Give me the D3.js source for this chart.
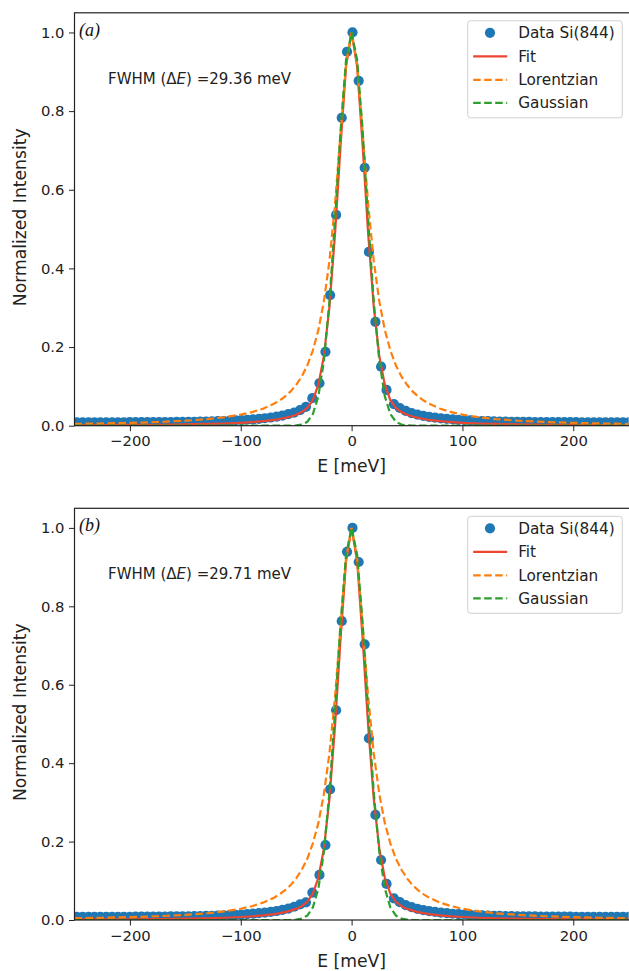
<!DOCTYPE html>
<html>
<head>
<meta charset="utf-8">
<script src="https://cdn.jsdelivr.net/npm/d3@7"></script>
<style>
  body { margin: 0; background: #fff; }
  svg { display: block; }
</style>
</head>
<body>
<svg id="chart"></svg>
<script>
// energy grid of the measured points (meV)
const energyData = [
  -253.2, -247.9, -242.6, -237.3, -232.0, -226.7, -221.4, -216.1, -210.8, -205.5,
  -200.2, -194.9, -189.6, -184.3, -179.0, -173.7, -168.4, -163.1, -157.8, -152.5,
  -147.2, -141.9, -136.6, -131.3, -126.0, -120.7, -115.4, -110.1, -104.8, -99.5,
  -94.2, -88.9, -83.6, -78.3, -73.0, -67.7, -62.4, -57.1, -51.8, -46.5,
  -41.2, -35.4, -29.0, -23.6, -19.4, -14.0, -8.9, -4.1, 0.8, 6.4,
  11.8, 15.6, 21.5, 26.6, 31.5, 38.2,
  43.5, 48.8, 54.1, 59.4, 64.7, 70.0, 75.3, 80.6, 85.9, 91.2,
  96.5, 101.8, 107.1, 112.4, 117.7, 123.0, 128.3, 133.6, 138.9, 144.2,
  149.5, 154.8, 160.1, 165.4, 170.7, 176.0, 181.3, 186.6, 191.9, 197.2,
  202.5, 207.8, 213.1, 218.4, 223.7, 229.0, 234.3, 239.6, 244.9, 250.2
];

// panel (a) measured intensity
const intensityA = [
  0.0085, 0.0085, 0.0086, 0.0086, 0.0086, 0.0087, 0.0087, 0.0087, 0.0088, 0.0088,
  0.0089, 0.0089, 0.0090, 0.0090, 0.0091, 0.0092, 0.0093, 0.0094, 0.0095, 0.0097,
  0.0099, 0.0101, 0.0104, 0.0107, 0.0111, 0.0115, 0.0120, 0.0126, 0.0133, 0.0141,
  0.0151, 0.0162, 0.0175, 0.0190, 0.0208, 0.0230, 0.0258, 0.0292, 0.0335, 0.0395,
  0.048, 0.070, 0.108, 0.188, 0.332, 0.536, 0.783, 0.951, 1.000, 0.877,
  0.656, 0.442, 0.264, 0.150, 0.091, 0.055,
  0.0450, 0.0375, 0.0322, 0.0282, 0.0250, 0.0225, 0.0204, 0.0187, 0.0172, 0.0160,
  0.0150, 0.0141, 0.0133, 0.0126, 0.0120, 0.0115, 0.0111, 0.0107, 0.0104, 0.0101,
  0.0099, 0.0097, 0.0095, 0.0094, 0.0093, 0.0092, 0.0091, 0.0090, 0.0090, 0.0089,
  0.0089, 0.0088, 0.0088, 0.0088, 0.0087, 0.0087, 0.0087, 0.0086, 0.0086, 0.0086
];

// panel (b) measured intensity
const intensityB = [
  0.0078, 0.0078, 0.0079, 0.0079, 0.0080, 0.0080, 0.0081, 0.0081, 0.0082, 0.0082,
  0.0083, 0.0084, 0.0085, 0.0086, 0.0087, 0.0088, 0.0089, 0.0090, 0.0092, 0.0094,
  0.0096, 0.0099, 0.0102, 0.0105, 0.0109, 0.0114, 0.0119, 0.0125, 0.0132, 0.0140,
  0.0150, 0.0161, 0.0174, 0.0189, 0.0207, 0.0229, 0.0257, 0.0292, 0.0338, 0.0398,
  0.045, 0.070, 0.115, 0.191, 0.333, 0.535, 0.762, 0.939, 1.000, 0.913,
  0.703, 0.463, 0.268, 0.153, 0.092, 0.055,
  0.0455, 0.0380, 0.0326, 0.0285, 0.0253, 0.0227, 0.0206, 0.0188, 0.0173, 0.0160,
  0.0149, 0.0140, 0.0132, 0.0125, 0.0119, 0.0114, 0.0109, 0.0105, 0.0102, 0.0099,
  0.0096, 0.0094, 0.0092, 0.0090, 0.0089, 0.0088, 0.0087, 0.0086, 0.0085, 0.0084,
  0.0083, 0.0082, 0.0082, 0.0081, 0.0081, 0.0080, 0.0080, 0.0079, 0.0079, 0.0078
];

// energy grid of the model curves (meV)
const energyCurve = [
  -250, -225, -200, -175, -150, -130, -115, -100, -90, -80, -70, -65, -60, -55, -50,
  -45, -40, -35, -30, -25, -20, -15, -10, -5, 0, 5, 10, 15, 20, 25, 30, 35, 40, 45,
  50, 55, 60, 65, 70, 80, 90, 100, 115, 130, 150, 175, 200, 225, 250
];

const fitA = [
  0.0012, 0.0015, 0.0019, 0.0024, 0.0033, 0.0044, 0.0056, 0.0074, 0.0091, 0.0114, 0.0147, 0.0170, 0.0198, 0.0233, 0.0278,
  0.0347, 0.0453, 0.065, 0.1035, 0.177, 0.302, 0.486, 0.710, 0.913, 1.0, 0.913, 0.710, 0.486, 0.302, 0.177, 0.1035, 0.065, 0.0453, 0.0347,
  0.0278, 0.0233, 0.0198, 0.0170, 0.0147, 0.0114, 0.0091, 0.0074, 0.0056, 0.0044, 0.0033, 0.0024, 0.0019, 0.0015, 0.0012
];
const lorentzA = [
  0.0046, 0.0057, 0.0072, 0.0094, 0.0127, 0.0168, 0.0214, 0.0281, 0.0344, 0.0432, 0.0557, 0.0640, 0.0743, 0.0872, 0.104,
  0.125, 0.153, 0.191, 0.243, 0.316, 0.419, 0.562, 0.743, 0.920, 1.0, 0.920, 0.743, 0.562, 0.419, 0.316, 0.243, 0.191, 0.153, 0.125,
  0.104, 0.0872, 0.0743, 0.0640, 0.0557, 0.0432, 0.0344, 0.0281, 0.0214, 0.0168, 0.0127, 0.0094, 0.0072, 0.0057, 0.0046
];
const gaussA = [
  0, 0, 0, 0, 0, 0, 0, 0, 0, 0, 0, 0, 0, 0.0002, 0.0007,
  0.0029, 0.0099, 0.0292, 0.0745, 0.165, 0.315, 0.522, 0.749, 0.930, 1.0, 0.930, 0.749, 0.522, 0.315, 0.165, 0.0745, 0.0292, 0.0099, 0.0029,
  0.0007, 0.0002, 0, 0, 0, 0, 0, 0, 0, 0, 0, 0, 0, 0, 0
];

const fitB = [
  0.0012, 0.0015, 0.0019, 0.0025, 0.0034, 0.0045, 0.0057, 0.0076, 0.0093, 0.0117, 0.0150, 0.0174, 0.0202, 0.0238, 0.0284,
  0.0354, 0.0463, 0.0670, 0.107, 0.182, 0.309, 0.493, 0.715, 0.915, 1.0, 0.915, 0.715, 0.493, 0.309, 0.182, 0.107, 0.0670, 0.0463, 0.0354,
  0.0284, 0.0238, 0.0202, 0.0174, 0.0150, 0.0117, 0.0093, 0.0076, 0.0057, 0.0045, 0.0034, 0.0025, 0.0019, 0.0015, 0.0012
];
const lorentzB = [
  0.0047, 0.0058, 0.0073, 0.0096, 0.0130, 0.0172, 0.0219, 0.0287, 0.0352, 0.0442, 0.0570, 0.0654, 0.0760, 0.0890, 0.106,
  0.128, 0.156, 0.195, 0.247, 0.321, 0.425, 0.568, 0.747, 0.922, 1.0, 0.922, 0.747, 0.568, 0.425, 0.321, 0.247, 0.195, 0.156, 0.128,
  0.106, 0.0890, 0.0760, 0.0654, 0.0570, 0.0442, 0.0352, 0.0287, 0.0219, 0.0172, 0.0130, 0.0096, 0.0073, 0.0058, 0.0047
];
const gaussB = [
  0, 0, 0, 0, 0, 0, 0, 0, 0, 0, 0, 0, 0, 0.0002, 0.0009,
  0.0034, 0.0113, 0.032, 0.080, 0.173, 0.325, 0.531, 0.755, 0.932, 1.0, 0.932, 0.755, 0.531, 0.325, 0.173, 0.080, 0.032, 0.0113, 0.0034,
  0.0009, 0.0002, 0, 0, 0, 0, 0, 0, 0, 0, 0, 0, 0, 0, 0
];

const xTicks = [-200, -100, 0, 100, 200];
const yTicks = [0.0, 0.2, 0.4, 0.6, 0.8, 1.0];
const panelLabels = ["(a)", "(b)"];
const fwhmValues = ["29.36", "29.71"];
const legendLabels = ["Data Si(844)", "Fit", "Lorentzian", "Gaussian"];

const COLORS = { data: "#1f77b4", fit: "#ee4530", lor: "#ff7f0e", gau: "#2ca02c" };
const FONT = "'DejaVu Sans', sans-serif";
const INK = "#222";
const DASH = "7.5,3.5";

const svg = d3.select("#chart").attr("width", 629).attr("height", 971);

const xLeft = 74.5, xRight = 628.7;

const panels = [
  { top: 12.8, bottom: 425.7, intensity: intensityA, fit: fitA, lor: lorentzA, gau: gaussA },
  { top: 508.3, bottom: 920.0, intensity: intensityB, fit: fitB, lor: lorentzB, gau: gaussB }
];

function drawPanel(p, i) {
  const x = d3.scaleLinear().domain([-250, 250]).range([xLeft, xRight]);
  const y = d3.scaleLinear().domain([0, 1.05]).range([p.bottom, p.top]);

  const clipId = "clip-" + i;
  svg.append("clipPath").attr("id", clipId)
    .append("rect")
    .attr("x", xLeft).attr("y", p.top)
    .attr("width", xRight - xLeft).attr("height", p.bottom - p.top);

  const plot = svg.append("g").attr("clip-path", `url(#${clipId})`);

  // measured points
  plot.selectAll("circle.pt")
    .data(p.intensity)
    .enter()
    .append("circle")
    .attr("class", "pt")
    .attr("cx", (d, j) => x(energyData[j]))
    .attr("cy", d => y(d))
    .attr("r", 5.1)
    .attr("fill", COLORS.data);

  const line = d3.line()
    .x((d, j) => x(energyCurve[j]))
    .y(d => y(d));

  plot.append("path").datum(p.fit)
    .attr("fill", "none").attr("stroke", COLORS.fit)
    .attr("stroke-width", 2.2).attr("d", line);

  plot.append("path").datum(p.lor)
    .attr("fill", "none").attr("stroke", COLORS.lor)
    .attr("stroke-width", 2.2).attr("stroke-dasharray", DASH).attr("d", line);

  plot.append("path").datum(p.gau)
    .attr("fill", "none").attr("stroke", COLORS.gau)
    .attr("stroke-width", 2.2).attr("stroke-dasharray", DASH).attr("d", line);

  // axes
  const xAxis = svg.append("g")
    .attr("transform", `translate(0,${p.bottom})`)
    .call(d3.axisBottom(x).tickValues(xTicks).tickSize(5.5).tickPadding(4.5)
      .tickFormat(d => d < 0 ? "\u2212" + Math.abs(d) : String(d)));

  const yAxis = svg.append("g")
    .attr("transform", `translate(${xLeft},0)`)
    .call(d3.axisLeft(y).tickValues(yTicks).tickSize(5.5).tickPadding(4.5)
      .tickFormat(d3.format(".1f")));

  [xAxis, yAxis].forEach(ax => {
    ax.select(".domain").remove();
    ax.selectAll(".tick line").attr("stroke", INK).attr("stroke-width", 1);
    ax.selectAll(".tick text")
      .attr("fill", INK)
      .style("font-family", FONT)
      .style("font-size", "14.8px");
  });

  // frame (right edge falls just outside the picture)
  svg.append("rect")
    .attr("x", xLeft).attr("y", p.top)
    .attr("width", xRight - xLeft + 3).attr("height", p.bottom - p.top)
    .attr("fill", "none").attr("stroke", INK).attr("stroke-width", 1.2);

  // axis titles
  svg.append("text")
    .attr("x", (xLeft + xRight) / 2).attr("y", p.bottom + 46.5)
    .attr("text-anchor", "middle")
    .attr("fill", INK)
    .style("font-family", FONT).style("font-size", "17.2px")
    .text("E [meV]");

  svg.append("text")
    .attr("transform", `translate(26,${(p.top + p.bottom) / 2 - 2}) rotate(-90)`)
    .attr("text-anchor", "middle")
    .attr("fill", INK)
    .style("font-family", FONT).style("font-size", "17.2px")
    .text("Normalized Intensity");

  // panel label
  svg.append("text")
    .attr("x", xLeft + 4.5).attr("y", p.top + 23)
    .attr("fill", "#111")
    .style("font-family", "'Liberation Serif', 'Times New Roman', serif")
    .style("font-style", "italic")
    .style("font-size", "18px")
    .text(panelLabels[i]);

  // FWHM annotation
  const note = svg.append("text")
    .attr("x", 108).attr("y", p.top + 71)
    .attr("fill", INK)
    .style("font-family", FONT).style("font-size", "15px");
  note.append("tspan").text("FWHM (\u0394");
  note.append("tspan").style("font-style", "italic").text("E");
  note.append("tspan").text(") =" + fwhmValues[i] + " meV");

  // legend
  const lx = 467.7, ly = p.top + 8, lw = 154.6, lh = 97;
  const leg = svg.append("g");
  leg.append("rect")
    .attr("x", lx).attr("y", ly).attr("width", lw).attr("height", lh)
    .attr("rx", 3).attr("fill", "#fff").attr("fill-opacity", 0.85)
    .attr("stroke", "#d0d0d0").attr("stroke-width", 1);

  const rowY = [12, 35.5, 59, 82];
  const styles = [
    { type: "dot", color: COLORS.data },
    { type: "line", color: COLORS.fit, dash: null },
    { type: "line", color: COLORS.lor, dash: DASH },
    { type: "line", color: COLORS.gau, dash: DASH }
  ];
  legendLabels.forEach((lab, k) => {
    const cy = ly + rowY[k];
    const s = styles[k];
    if (s.type === "dot") {
      leg.append("circle").attr("cx", lx + 22.3).attr("cy", cy).attr("r", 5.1).attr("fill", s.color);
    } else {
      leg.append("line")
        .attr("x1", lx + 5.5).attr("x2", lx + 39.5)
        .attr("y1", cy).attr("y2", cy)
        .attr("stroke", s.color).attr("stroke-width", 2.2)
        .attr("stroke-dasharray", s.dash);
    }
    leg.append("text")
      .attr("x", lx + 50.5).attr("y", cy).attr("dy", "0.36em")
      .attr("fill", INK)
      .style("font-family", FONT).style("font-size", "15.3px")
      .text(lab);
  });
}

panels.forEach(drawPanel);
</script>
</body>
</html>
